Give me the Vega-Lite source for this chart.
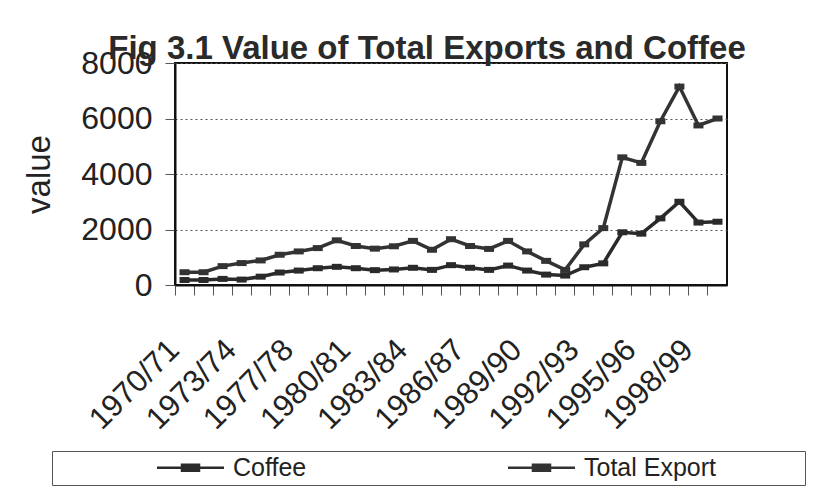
{
  "$schema": "https://vega.github.io/schema/vega-lite/v6.json",
  "width": 552,
  "height": 222,
  "autosize": {"type": "none"},
  "padding": {"left": 175, "top": 63, "right": 107, "bottom": 209},
  "background": "white",
  "title": {
    "text": "Fig 3.1 Value of Total Exports and Coffee",
    "font": "Liberation Sans",
    "fontSize": 33,
    "fontWeight": "bold",
    "color": "#2a2a2a",
    "anchor": "middle",
    "dx": -24,
    "baseline": "alphabetic",
    "offset": -45
  },
  "config": {
    "view": {"stroke": "#111", "strokeWidth": 2},
    "font": "Liberation Sans",
    "axis": {"labelColor": "#222", "titleColor": "#222", "labelFont": "Liberation Sans", "titleFont": "Liberation Sans"},
    "legend": {"labelFont": "Liberation Sans"}
  },
  "data": {
    "values": [
      {"year": "1970/71", "series": "Total Export", "value": 460},
      {"year": "1971/72", "series": "Total Export", "value": 460},
      {"year": "1972/73", "series": "Total Export", "value": 680},
      {"year": "1973/74", "series": "Total Export", "value": 790},
      {"year": "1974/75", "series": "Total Export", "value": 885},
      {"year": "1976/77", "series": "Total Export", "value": 1090},
      {"year": "1977/78", "series": "Total Export", "value": 1210},
      {"year": "1978/79", "series": "Total Export", "value": 1330},
      {"year": "1979/80", "series": "Total Export", "value": 1610},
      {"year": "1980/81", "series": "Total Export", "value": 1405},
      {"year": "1981/82", "series": "Total Export", "value": 1310},
      {"year": "1982/83", "series": "Total Export", "value": 1395},
      {"year": "1983/84", "series": "Total Export", "value": 1590},
      {"year": "1984/85", "series": "Total Export", "value": 1270},
      {"year": "1985/86", "series": "Total Export", "value": 1650},
      {"year": "1986/87", "series": "Total Export", "value": 1405},
      {"year": "1987/88", "series": "Total Export", "value": 1300},
      {"year": "1988/89", "series": "Total Export", "value": 1590},
      {"year": "1989/90", "series": "Total Export", "value": 1210},
      {"year": "1990/91", "series": "Total Export", "value": 870},
      {"year": "1991/92", "series": "Total Export", "value": 545},
      {"year": "1992/93", "series": "Total Export", "value": 1465},
      {"year": "1993/94", "series": "Total Export", "value": 2050},
      {"year": "1994/95", "series": "Total Export", "value": 4600},
      {"year": "1995/96", "series": "Total Export", "value": 4400},
      {"year": "1996/97", "series": "Total Export", "value": 5900},
      {"year": "1997/98", "series": "Total Export", "value": 7150},
      {"year": "1998/99", "series": "Total Export", "value": 5750},
      {"year": "1999/00", "series": "Total Export", "value": 6000},
      {"year": "1970/71", "series": "Coffee", "value": 180},
      {"year": "1971/72", "series": "Coffee", "value": 180},
      {"year": "1972/73", "series": "Coffee", "value": 220},
      {"year": "1973/74", "series": "Coffee", "value": 195},
      {"year": "1974/75", "series": "Coffee", "value": 300},
      {"year": "1976/77", "series": "Coffee", "value": 450},
      {"year": "1977/78", "series": "Coffee", "value": 520},
      {"year": "1978/79", "series": "Coffee", "value": 605},
      {"year": "1979/80", "series": "Coffee", "value": 655},
      {"year": "1980/81", "series": "Coffee", "value": 605},
      {"year": "1981/82", "series": "Coffee", "value": 535},
      {"year": "1982/83", "series": "Coffee", "value": 560},
      {"year": "1983/84", "series": "Coffee", "value": 620},
      {"year": "1984/85", "series": "Coffee", "value": 545},
      {"year": "1985/86", "series": "Coffee", "value": 715},
      {"year": "1986/87", "series": "Coffee", "value": 620},
      {"year": "1987/88", "series": "Coffee", "value": 545},
      {"year": "1988/89", "series": "Coffee", "value": 700},
      {"year": "1989/90", "series": "Coffee", "value": 520},
      {"year": "1990/91", "series": "Coffee", "value": 375},
      {"year": "1991/92", "series": "Coffee", "value": 340},
      {"year": "1992/93", "series": "Coffee", "value": 640},
      {"year": "1993/94", "series": "Coffee", "value": 780},
      {"year": "1994/95", "series": "Coffee", "value": 1900},
      {"year": "1995/96", "series": "Coffee", "value": 1850},
      {"year": "1996/97", "series": "Coffee", "value": 2400},
      {"year": "1997/98", "series": "Coffee", "value": 3000},
      {"year": "1998/99", "series": "Coffee", "value": 2250},
      {"year": "1999/00", "series": "Coffee", "value": 2280}
    ]
  },
  "mark": {
    "type": "line",
    "strokeWidth": 3.5,
    "point": {"shape": "M-1,-0.6H1V0.6H-1Z", "size": 100, "filled": true}
  },
  "encoding": {
    "x": {
      "field": "year",
      "type": "nominal",
      "scale": {
        "type": "band",
        "paddingInner": 0,
        "paddingOuter": 0,
        "domain": ["1970/71","1971/72","1972/73","1973/74","1974/75","1976/77","1977/78","1978/79","1979/80","1980/81","1981/82","1982/83","1983/84","1984/85","1985/86","1986/87","1987/88","1988/89","1989/90","1990/91","1991/92","1992/93","1993/94","1994/95","1995/96","1996/97","1997/98","1998/99","1999/00"]
      },
      "axis": {
        "title": null,
        "bandPosition": 0,
        "labelAngle": -45,
        "labelAlign": "right",
        "labelBaseline": "middle",
        "labelFontSize": 31,
        "labelPadding": 50,
        "labelOffset": -10,
        "labelOverlap": false,
        "tickSize": 10,
        "tickColor": "#555",
        "domainColor": "#111",
        "domainWidth": 2,
        "grid": false,
        "labelExpr": "indexof(['1970/71','1973/74','1977/78','1980/81','1983/84','1986/87','1989/90','1992/93','1995/96','1998/99'], datum.value) >= 0 ? datum.value : ''"
      }
    },
    "y": {
      "field": "value",
      "type": "quantitative",
      "scale": {"domain": [0, 8000], "nice": false},
      "axis": {
        "title": "value",
        "values": [0, 2000, 4000, 6000, 8000],
        "format": "d",
        "labelFontSize": 32,
        "labelPadding": 13,
        "tickSize": 10,
        "tickColor": "#555",
        "domainColor": "#111",
        "domainWidth": 2,
        "grid": true,
        "gridDash": [2, 3],
        "gridColor": "#555",
        "titleFontSize": 33,
        "titleFontWeight": "normal",
        "titleAngle": -90,
        "titleX": -136,
        "titleY": 111,
        "titleAlign": "center",
        "titleBaseline": "middle"
      }
    },
    "color": {
      "field": "series",
      "type": "nominal",
      "scale": {"domain": ["Coffee", "Total Export"], "range": ["#2a2a2a", "#333333"]},
      "legend": {
        "orient": "none",
        "legendX": -123,
        "legendY": 388,
        "direction": "horizontal",
        "title": "\u2800\u2800\u2800\u2800",
        "titleFont": "DejaVu Sans",
        "titleOrient": "right",
        "titleFontSize": 27,
        "titleColor": "#ffffff",
        "titlePadding": 0,
        "titleLimit": 400,
        "strokeColor": "#555",
        "padding": 4,
        "symbolType": "M-3.35,0H3.35M-0.85,-0.3H0.85V0.3H-0.85Z",
        "symbolSize": 400,
        "symbolStrokeWidth": 2.5,
        "symbolFillColor": "#2a2a2a",
        "symbolStrokeColor": "#2a2a2a",
        "symbolOffset": 122,
        "labelOffset": 30,
        "columnPadding": 100,
        "labelFont": "Liberation Sans",
        "labelFontSize": 25,
        "labelColor": "#222"
      }
    }
  }
}
